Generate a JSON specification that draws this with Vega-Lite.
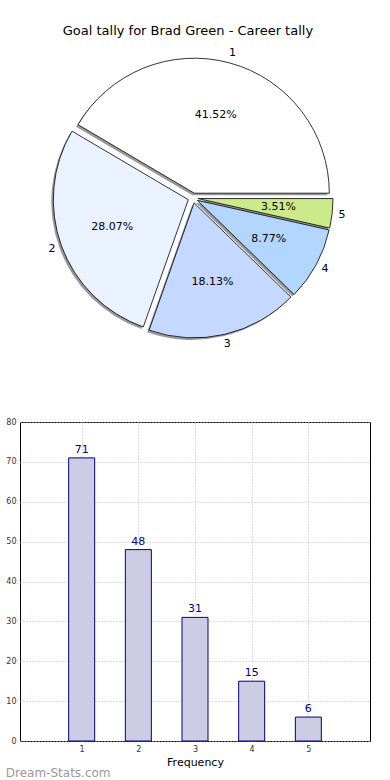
{
  "$schema": "https://vega.github.io/schema/vega-lite/v6.json",
  "padding": {"left": 5, "top": 25, "right": 5, "bottom": 0},
  "background": "#ffffff",
  "title": {"text": "Goal tally for Brad Green - Career tally", "anchor": "middle", "fontSize": 13, "fontWeight": "normal", "font": "DejaVu Sans", "color": "#000000", "offset": 9},
  "config": {
    "font": "DejaVu Sans",
    "axis": {"grid": true, "gridDash": [1, 2], "gridColor": "#bbbbbb", "gridWidth": 1, "domain": false, "ticks": false, "labelFontSize": 8, "labelColor": "#333333", "labelFont": "DejaVu Sans", "zindex": 1}
  },
  "datasets": {
    "goals": [
      {"slice": 1, "count": 71, "pct": "41.52%"},
      {"slice": 2, "count": 48, "pct": "28.07%"},
      {"slice": 3, "count": 31, "pct": "18.13%"},
      {"slice": 4, "count": 15, "pct": "8.77%"},
      {"slice": 5, "count": 6, "pct": "3.51%"}
    ]
  },
  "spacing": 67,
  "vconcat": [
    {
      "width": 350,
      "height": 300,
      "view": {"stroke": null},
      "data": {"name": "goals"},
      "transform": [{"stack": "count", "groupby": [], "sort": [{"field": "slice", "order": "descending"}], "as": ["t0", "t1"]}],
      "layer": [
        {"transform": [{"filter": "datum.slice == 1"}], "mark": {"type": "arc", "radius": 135, "xOffset": -2.7, "yOffset": -2.8, "fill": "#555555", "fillOpacity": 0.6},
         "encoding": {"theta": {"field": "t0", "type": "quantitative", "scale": {"range": [1.5708, 7.854], "nice": false, "zero": true}}, "theta2": {"field": "t1"}}},
        {"transform": [{"filter": "datum.slice == 2"}], "mark": {"type": "arc", "radius": 135, "xOffset": -8.7, "yOffset": 3.7, "fill": "#555555", "fillOpacity": 0.6},
         "encoding": {"theta": {"field": "t0", "type": "quantitative"}, "theta2": {"field": "t1"}}},
        {"transform": [{"filter": "datum.slice == 3"}], "mark": {"type": "arc", "radius": 135, "xOffset": -2.9, "yOffset": 6.9, "fill": "#555555", "fillOpacity": 0.6},
         "encoding": {"theta": {"field": "t0", "type": "quantitative"}, "theta2": {"field": "t1"}}},
        {"transform": [{"filter": "datum.slice == 4"}], "mark": {"type": "arc", "radius": 135, "xOffset": 0.4, "yOffset": 4.4, "fill": "#555555", "fillOpacity": 0.6},
         "encoding": {"theta": {"field": "t0", "type": "quantitative"}, "theta2": {"field": "t1"}}},
        {"transform": [{"filter": "datum.slice == 5"}], "mark": {"type": "arc", "radius": 135, "xOffset": 1.0, "yOffset": 2.55, "fill": "#555555", "fillOpacity": 0.6},
         "encoding": {"theta": {"field": "t0", "type": "quantitative"}, "theta2": {"field": "t1"}}},
        {"transform": [{"filter": "datum.slice == 1"}], "mark": {"type": "arc", "radius": 135, "xOffset": -0.7, "yOffset": -4.8, "stroke": "#000000", "strokeWidth": 0.8},
         "encoding": {"theta": {"field": "t0", "type": "quantitative"}, "theta2": {"field": "t1"}, "color": {"field": "slice", "type": "nominal", "scale": {"domain": [1, 2, 3, 4, 5], "range": ["#ffffff", "#eaf1ff", "#c5d8ff", "#b3d6ff", "#cdea8a"]}, "legend": null}}},
        {"transform": [{"filter": "datum.slice == 2"}], "mark": {"type": "arc", "radius": 135, "xOffset": -6.7, "yOffset": 1.7, "stroke": "#000000", "strokeWidth": 0.8},
         "encoding": {"theta": {"field": "t0", "type": "quantitative"}, "theta2": {"field": "t1"}, "color": {"field": "slice", "type": "nominal", "legend": null}}},
        {"transform": [{"filter": "datum.slice == 3"}], "mark": {"type": "arc", "radius": 135, "xOffset": -0.9, "yOffset": 4.9, "stroke": "#000000", "strokeWidth": 0.8},
         "encoding": {"theta": {"field": "t0", "type": "quantitative"}, "theta2": {"field": "t1"}, "color": {"field": "slice", "type": "nominal", "legend": null}}},
        {"transform": [{"filter": "datum.slice == 4"}], "mark": {"type": "arc", "radius": 135, "xOffset": 2.4, "yOffset": 2.4, "stroke": "#000000", "strokeWidth": 0.8},
         "encoding": {"theta": {"field": "t0", "type": "quantitative"}, "theta2": {"field": "t1"}, "color": {"field": "slice", "type": "nominal", "legend": null}}},
        {"transform": [{"filter": "datum.slice == 5"}], "mark": {"type": "arc", "radius": 135, "xOffset": 3.0, "yOffset": 0.55, "stroke": "#000000", "strokeWidth": 0.8},
         "encoding": {"theta": {"field": "t0", "type": "quantitative"}, "theta2": {"field": "t1"}, "color": {"field": "slice", "type": "nominal", "legend": null}}},
        {"mark": {"type": "text", "radius": 86, "fontSize": 11, "color": "#000000", "xOffset": -2},
         "encoding": {"theta": {"field": "count", "type": "quantitative", "stack": true}, "order": {"field": "slice", "type": "quantitative", "sort": "descending"}, "text": {"field": "pct"}}},
        {"mark": {"type": "text", "radius": 150, "fontSize": 11, "color": "#000000", "xOffset": -2},
         "encoding": {"theta": {"field": "count", "type": "quantitative", "stack": true}, "order": {"field": "slice", "type": "quantitative", "sort": "descending"}, "text": {"field": "slice"}}}
      ]
    },
    {
      "width": 350,
      "height": 319,
      "view": {"stroke": "#000000", "strokeWidth": 1},
      "data": {"name": "goals"},
      "title": {"text": "Dream-Stats.com", "orient": "bottom", "anchor": "start", "frame": "bounds", "fontSize": 12, "fontWeight": "normal", "color": "#999999", "offset": 1},
      "encoding": {
        "x": {"field": "slice", "type": "quantitative", "scale": {"domain": [0, 6], "nice": false}, "axis": {"values": [1, 2, 3, 4, 5], "title": "Frequency", "titleFontSize": 11, "titleFontWeight": "normal", "titleColor": "#000000", "titlePadding": 3, "labelPadding": 4}},
        "y": {"field": "count", "type": "quantitative", "scale": {"domain": [0, 80], "nice": false}, "axis": {"values": [0, 10, 20, 30, 40, 50, 60, 70, 80], "title": null, "labelPadding": 4}}
      },
      "layer": [
        {"mark": {"type": "bar", "width": 26, "fill": "#ccccE4", "stroke": "#00007f", "strokeWidth": 1}},
        {"mark": {"type": "text", "dy": -8, "color": "#00008b", "fontSize": 11}, "encoding": {"text": {"field": "count"}}}
      ]
    }
  ]
}
